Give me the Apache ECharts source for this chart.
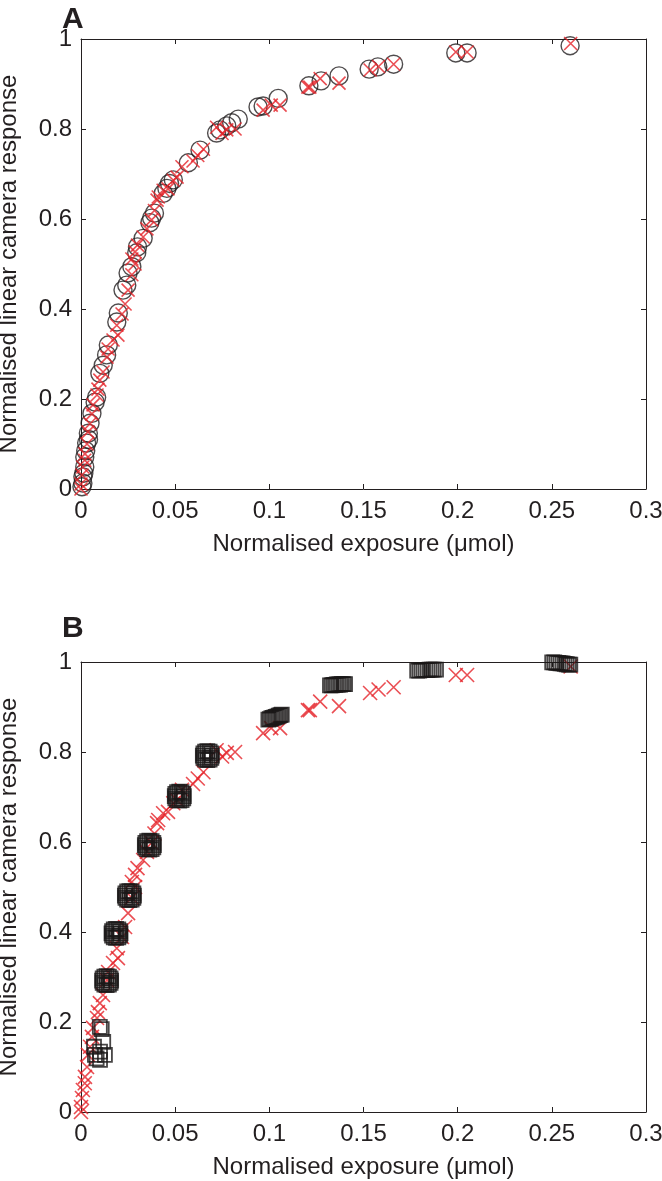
<!DOCTYPE html>
<html>
<head>
<meta charset="utf-8">
<script src="https://cdn.jsdelivr.net/npm/echarts@6/dist/echarts.min.js"></script>
<style>
html,body{margin:0;padding:0;background:#fff;}
#chart{width:662px;height:1181px;}
</style>
</head>
<body>
<div id="chart"></div>
<script>
// ---- Data ----
const xTickLabels = ['0', '0.05', '0.1', '0.15', '0.2', '0.25', '0.3'];
const yTickLabels = ['0', '0.2', '0.4', '0.6', '0.8', '1'];
const xTitle = 'Normalised exposure (\u03bcmol)';
const yTitle = 'Normalised linear camera response';

// Red crosses (same measurements in both panels)
const crossX = [0, 0, 0.0005, 0.001, 0.002, 0.0021, 0.0032, 0.0037, 0.0048, 0.0058,
  0.0064, 0.0085, 0.009, 0.010, 0.0117, 0.0138, 0.0144, 0.017, 0.0196, 0.019,
  0.0218, 0.0234, 0.025, 0.027, 0.0287, 0.027, 0.0287, 0.030, 0.033, 0.035,
  0.0375, 0.039, 0.0404, 0.041, 0.0436, 0.0462, 0.049, 0.051, 0.0536, 0.0595,
  0.062, 0.065, 0.072, 0.0749, 0.0774, 0.0818, 0.0967, 0.101, 0.1057, 0.1205,
  0.1215, 0.127, 0.137, 0.1535, 0.158, 0.166, 0.199, 0.205, 0.26];
const crossY = [0, 0.011, 0.031, 0.049, 0.064, 0.078, 0.1, 0.127, 0.145, 0.167,
  0.187, 0.209, 0.222, 0.242, 0.26, 0.293, 0.311, 0.331, 0.342, 0.364,
  0.389, 0.411, 0.442, 0.476, 0.5, 0.511, 0.527, 0.542, 0.56, 0.578,
  0.598, 0.619, 0.642, 0.649, 0.664, 0.667, 0.686, 0.693, 0.716, 0.729,
  0.741, 0.755, 0.804, 0.79, 0.798, 0.8, 0.842, 0.853, 0.853, 0.893,
  0.893, 0.912, 0.902, 0.931, 0.939, 0.944, 0.971, 0.971, 0.99];

// Panel A: black open circles
const circleX = [0.0005, 0.001, 0.001, 0.0015, 0.002, 0.002, 0.0025, 0.003, 0.0039, 0.004,
  0.0048, 0.0058, 0.0075, 0.0083, 0.010, 0.0118, 0.0136, 0.0145, 0.019, 0.0198,
  0.0223, 0.0243, 0.025, 0.027, 0.0296, 0.030, 0.033, 0.0366, 0.0375, 0.039,
  0.0437, 0.0456, 0.047, 0.049, 0.057, 0.0632, 0.072, 0.0738, 0.0774, 0.080,
  0.0835, 0.094, 0.0967, 0.1047, 0.121, 0.1275, 0.137, 0.153, 0.1576, 0.166,
  0.199, 0.205, 0.2597];
const circleY = [0.005, 0.013, 0.027, 0.035, 0.049, 0.071, 0.085, 0.102, 0.124, 0.11,
  0.146, 0.168, 0.193, 0.204, 0.257, 0.275, 0.298, 0.32, 0.371, 0.391,
  0.442, 0.453, 0.48, 0.494, 0.525, 0.538, 0.557, 0.592, 0.602, 0.613,
  0.657, 0.668, 0.679, 0.687, 0.725, 0.753, 0.791, 0.798, 0.807, 0.814,
  0.822, 0.849, 0.851, 0.868, 0.896, 0.907, 0.918, 0.933, 0.938, 0.944,
  0.969, 0.969, 0.985];

// Panel B: black open squares (heavily overlapping clusters)
const squareX = [
  0.0110, 0.0118, 0.0069, 0.0101, 0.0074, 0.0127, 0.0101, 0.0083, 0.0100,
  0.0160, 0.0157, 0.0148, 0.0136, 0.0124, 0.0115, 0.0112, 0.0115, 0.0124, 0.0136, 0.0148, 0.0157,
  0.0210, 0.0207, 0.0198, 0.0186, 0.0174, 0.0165, 0.0162, 0.0165, 0.0174, 0.0186, 0.0198, 0.0207,
  0.0281, 0.0278, 0.0269, 0.0257, 0.0245, 0.0236, 0.0233, 0.0236, 0.0245, 0.0257, 0.0269, 0.0278,
  0.0387, 0.0384, 0.0375, 0.0363, 0.0351, 0.0342, 0.0339, 0.0342, 0.0351, 0.0363, 0.0375, 0.0384,
  0.0546, 0.0543, 0.0534, 0.0522, 0.0510, 0.0501, 0.0498, 0.0501, 0.0510, 0.0522, 0.0534, 0.0543,
  0.0695, 0.0692, 0.0683, 0.0671, 0.0659, 0.0650, 0.0647, 0.0650, 0.0659, 0.0671, 0.0683, 0.0692,
  0.0995, 0.1003, 0.1011, 0.1019, 0.1027, 0.1035, 0.1043, 0.1051, 0.1059, 0.1066,
  0.1322, 0.1331, 0.1340, 0.1349, 0.1358, 0.1367, 0.1376, 0.1385, 0.1394, 0.1402,
  0.1785, 0.1796, 0.1807, 0.1818, 0.1829, 0.1840, 0.1851, 0.1862, 0.1873, 0.1885,
  0.2502, 0.2513, 0.2524, 0.2535, 0.2546, 0.2557, 0.2568, 0.2579, 0.2590, 0.2598];
const squareY = [
  0.184, 0.156, 0.145, 0.134, 0.127, 0.127, 0.116, 0.119, 0.189,
  0.292, 0.297, 0.301, 0.302, 0.301, 0.297, 0.292, 0.287, 0.283, 0.282, 0.283, 0.287,
  0.397, 0.402, 0.406, 0.407, 0.406, 0.402, 0.397, 0.392, 0.388, 0.387, 0.388, 0.392,
  0.481, 0.486, 0.490, 0.491, 0.490, 0.486, 0.481, 0.476, 0.472, 0.471, 0.472, 0.476,
  0.593, 0.598, 0.602, 0.603, 0.602, 0.598, 0.593, 0.588, 0.584, 0.583, 0.584, 0.588,
  0.702, 0.707, 0.711, 0.712, 0.711, 0.707, 0.702, 0.697, 0.693, 0.692, 0.693, 0.697,
  0.792, 0.797, 0.801, 0.802, 0.801, 0.797, 0.792, 0.787, 0.783, 0.782, 0.783, 0.787,
  0.872, 0.873, 0.875, 0.876, 0.877, 0.878, 0.879, 0.881, 0.882, 0.883,
  0.948, 0.948, 0.949, 0.949, 0.950, 0.950, 0.950, 0.951, 0.951, 0.951,
  0.981, 0.981, 0.982, 0.982, 0.982, 0.982, 0.983, 0.983, 0.983, 0.983,
  0.999, 0.999, 0.998, 0.998, 0.997, 0.997, 0.996, 0.995, 0.994, 0.994];

// ---- Build ----
const zip = (xs, ys) => xs.map((x, i) => [x, ys[i]]);
const INK = '#231f20';
const RED = '#e52228';
const FONT = '"Liberation Sans", Arial, Helvetica, sans-serif';
const CROSS = 'path://M0,0L10,10M10,0L0,10';

const grids = [
  {left: 81, top: 39, width: 565, height: 450, outerBoundsMode: 'none', containLabel: false},
  {left: 81, top: 662, width: 565, height: 450, outerBoundsMode: 'none', containLabel: false}
];

function xAxes(g) {
  return [
    {type: 'value', gridIndex: g, min: 0, max: 0.3, interval: 0.05, position: 'bottom',
     axisLine: {show: true, onZero: false, lineStyle: {color: INK, width: 1}},
     axisTick: {show: true, inside: true, length: 5, lineStyle: {color: INK}},
     axisLabel: {show: true, margin: 10, color: INK, fontSize: 24, fontFamily: FONT,
       formatter: (v, i) => xTickLabels[i]},
     splitLine: {show: false},
     name: xTitle, nameLocation: 'middle', nameGap: 43,
     nameTextStyle: {color: INK, fontSize: 24, fontFamily: FONT}},
    {type: 'value', gridIndex: g, min: 0, max: 0.3, interval: 0.05, position: 'top',
     axisLine: {show: true, onZero: false, lineStyle: {color: INK, width: 1}},
     axisTick: {show: true, inside: true, length: 5, lineStyle: {color: INK}},
     axisLabel: {show: false}, splitLine: {show: false}}
  ];
}
function yAxes(g) {
  return [
    {type: 'value', gridIndex: g, min: 0, max: 1, interval: 0.2, position: 'left',
     axisLine: {show: true, onZero: false, lineStyle: {color: INK, width: 1}},
     axisTick: {show: true, inside: true, length: 5, lineStyle: {color: INK}},
     axisLabel: {show: true, margin: 9, color: INK, fontSize: 24, fontFamily: FONT,
       formatter: (v, i) => yTickLabels[i]},
     splitLine: {show: false},
     name: yTitle, nameLocation: 'middle', nameGap: 60, nameRotate: 90,
     nameTextStyle: {color: INK, fontSize: 24, fontFamily: FONT}},
    {type: 'value', gridIndex: g, min: 0, max: 1, interval: 0.2, position: 'right',
     axisLine: {show: true, onZero: false, lineStyle: {color: INK, width: 1}},
     axisTick: {show: true, inside: true, length: 5, lineStyle: {color: INK}},
     axisLabel: {show: false}, splitLine: {show: false}}
  ];
}

const option = {
  animation: false,
  backgroundColor: '#fff',
  title: [
    {text: 'A', left: 57, top: 0, textStyle: {fontSize: 30, fontWeight: 'bold', color: INK, fontFamily: FONT}},
    {text: 'B', left: 57, top: 609, textStyle: {fontSize: 30, fontWeight: 'bold', color: INK, fontFamily: FONT}}
  ],
  grid: grids,
  xAxis: [...xAxes(0), ...xAxes(1)],
  yAxis: [...yAxes(0), ...yAxes(1)],
  series: [
    {type: 'scatter', xAxisIndex: 0, yAxisIndex: 0, clip: false, data: zip(circleX, circleY),
     symbol: 'circle', symbolSize: 18,
     itemStyle: {color: 'rgba(0,0,0,0)', borderColor: INK, borderWidth: 1.4}},
    {type: 'scatter', xAxisIndex: 0, yAxisIndex: 0, clip: false, data: zip(crossX, crossY),
     symbol: CROSS, symbolSize: 13,
     itemStyle: {color: 'rgba(0,0,0,0)', borderColor: RED, borderWidth: 1.6}},
    {type: 'scatter', xAxisIndex: 2, yAxisIndex: 2, clip: false, data: zip(crossX, crossY),
     symbol: CROSS, symbolSize: 14,
     itemStyle: {color: 'rgba(0,0,0,0)', borderColor: RED, borderWidth: 1.6}},
    {type: 'scatter', xAxisIndex: 2, yAxisIndex: 2, clip: false, data: zip(squareX, squareY),
     symbol: 'rect', symbolSize: 14,
     itemStyle: {color: 'rgba(0,0,0,0)', borderColor: '#1a1818', borderWidth: 1.8}}
  ]
};

const chart = echarts.init(document.getElementById('chart'), null, {renderer: 'canvas'});
chart.setOption(option);
</script>
</body>
</html>
